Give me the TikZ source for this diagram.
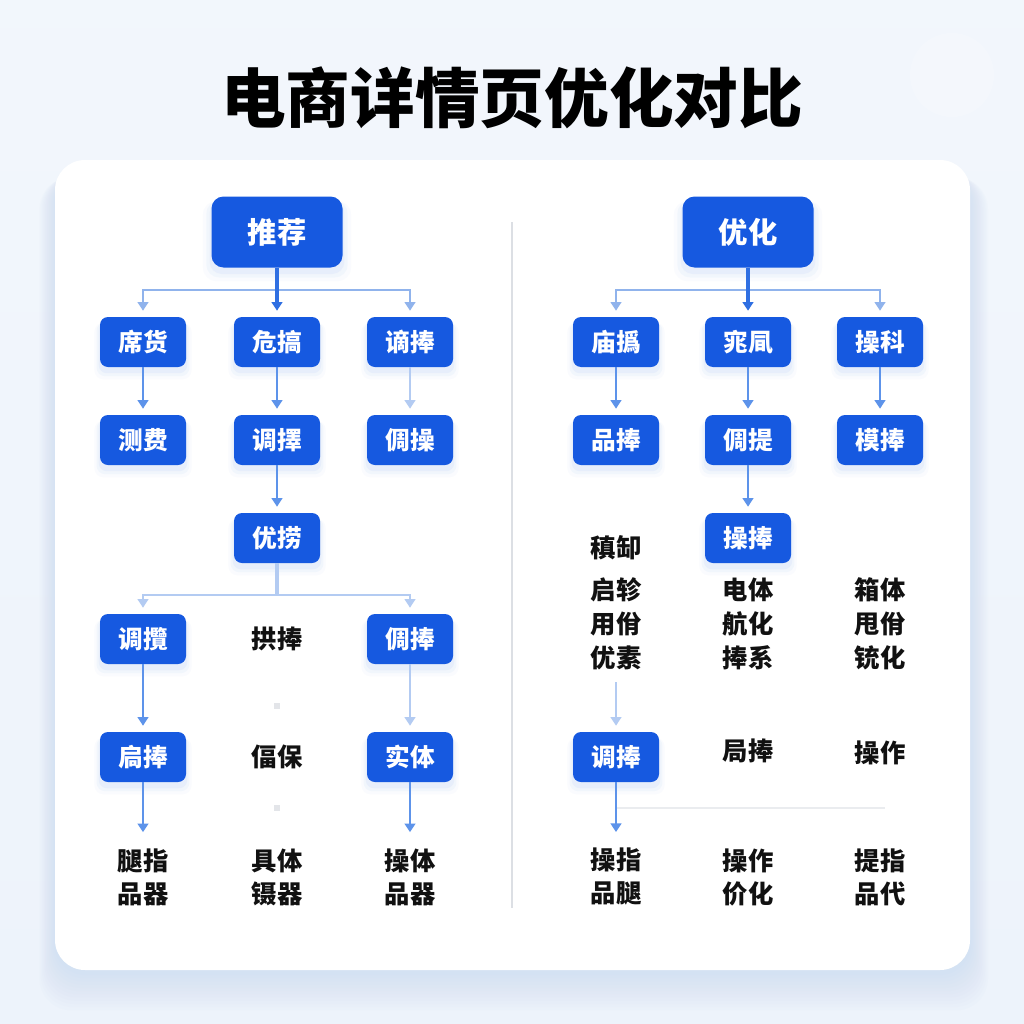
\documentclass[tikz,border=0pt]{standalone}
\usepackage{fontspec}
\newfontfamily\cjk{Noto Sans CJK SC}
\usetikzlibrary{arrows.meta,shadows}
\definecolor{bg}{HTML}{EDF3FB}
\definecolor{boxblue}{HTML}{1659E0}
\definecolor{trunkc}{HTML}{2F6FE2}
\definecolor{branchc}{HTML}{90B3EC}
\definecolor{varc}{HTML}{5D93EA}
\definecolor{lightc}{HTML}{B3CBF2}
\definecolor{divc}{HTML}{DCDFE4}
\definecolor{glow}{HTML}{BCD2F5}
\definecolor{cardglow}{HTML}{B9D0F3}
\definecolor{inkc}{HTML}{111111}
\begin{document}
\begin{tikzpicture}[x=0.75pt,y=-0.75pt,
  bluebox/.style={fill=boxblue, rounded corners=6pt, minimum width=64.5pt, minimum height=37.5pt, inner sep=0pt, text=white,
    font=\cjk\bfseries\fontsize{18.5}{20}\selectfont,
    general shadow={shadow yshift=-4pt, shadow scale=1.03, fill=glow, opacity=0.18},
    general shadow={shadow yshift=-5pt, shadow scale=1.08, fill=glow, opacity=0.12},
    general shadow={shadow yshift=-6pt, shadow scale=1.13, fill=glow, opacity=0.07}},
  rootbox/.style={bluebox, rounded corners=9pt, minimum width=98.25pt, minimum height=53.25pt,
    font=\cjk\bfseries\fontsize{22}{24}\selectfont},
  plain/.style={inner sep=0pt, text=inkc, align=center, font=\cjk\bfseries\fontsize{19}{24.75}\selectfont},
  plainr/.style={plain, font=\cjk\bfseries\fontsize{19}{25.5}\selectfont},
  tip/.style={-{Triangle[width=8pt,length=6.5pt]}},
  trunk/.style={tip, draw=trunkc, line width=2.3pt, shorten >=4.5pt},
  branch/.style={tip, draw=branchc, line width=1.5pt, shorten >=4.5pt},
  varrow/.style={tip, draw=varc, line width=2pt, shorten >=4.5pt},
  lightarrow/.style={tip, draw=lightc, line width=2pt, shorten >=4.5pt},
  busline/.style={draw=branchc, line width=1.5pt},
  dotsq/.style={fill=divc!80, minimum size=4pt, inner sep=0pt}
]
\useasboundingbox (0,0) rectangle (1024,1024);
% background
\shade[top color=bg!70!white, bottom color=bg] (0,0) rectangle (1024,1024);
\fill[white, opacity=0.18] (952,75) circle (42);
% title
\node (title) at (512,98) {\cjk\bfseries\fontsize{48.5}{50}\selectfont 电商详情页优化对比};
% card shadow
\foreach \i in {1,...,12}
  \fill[cardglow, opacity=0.04, rounded corners=24pt] (55-\i*1.3,170+\i*0.6) rectangle (970+\i*1.5,972+\i*3.2);
\fill[white, rounded corners=22.5pt] (55,160) rectangle (970,970);
% divider
\draw[divc, line width=0.8pt] (512,222) -- (512,908);

% ---------------- LEFT ----------------
\node[rootbox] (L0) at (277,232) {推荐};
\node[bluebox] (LA1) at (143,342) {席货};
\node[bluebox] (LB1) at (277,342) {危搞};
\node[bluebox] (LC1) at (410,342) {谪捧};
\node[bluebox] (LA2) at (143,440) {测费};
\node[bluebox] (LB2) at (277,440) {调擇};
\node[bluebox] (LC2) at (410,440) {倜操};
\node[bluebox] (LB3) at (277,538) {优捞};
\node[bluebox] (LA4) at (143,639) {调攬};
\node[plain]   (LB4) at (277,639) {拱捧};
\node[bluebox] (LC4) at (410,639) {倜捧};
\node[bluebox] (LA5) at (143,757) {扃捧};
\node[plain]   (LB5) at (277,757) {偪保};
\node[bluebox] (LC5) at (410,757) {实体};
\node[plain]   (LA6) at (143,877) {腿指\\品器};
\node[plain]   (LB6) at (277,877) {具体\\镊器};
\node[plain]   (LC6) at (410,877) {操体\\品器};
\node[dotsq] (LD1) at (277,706) {};
\node[dotsq] (LD2) at (277,808) {};

\coordinate (Lbus) at (277,290);
\draw[busline] (LA1.north |- Lbus) -- (LC1.north |- Lbus);
\draw[branch] (Lbus) -| (LA1.north);
\draw[branch] (Lbus) -| (LC1.north);
\draw[trunk] (L0.south) -- (LB1.north);
\draw[varrow] (LA1.south) -- (LA2.north);
\draw[varrow] (LB1.south) -- (LB2.north);
\draw[lightarrow] (LC1.south) -- (LC2.north);
\draw[varrow] (LB2.south) -- (LB3.north);
\coordinate (Lbus2) at (277,595);
\draw[draw=lightc, line width=2.5pt] (LB3.south) -- (Lbus2);
\draw[draw=lightc, line width=1.5pt] (LA4.north |- Lbus2) -- (LC4.north |- Lbus2);
\draw[tip, draw=lightc, line width=1.5pt, shorten >=4.5pt] (Lbus2) -| (LA4.north);
\draw[tip, draw=lightc, line width=1.5pt, shorten >=4.5pt] (Lbus2) -| (LC4.north);
\draw[varrow] (LA4.south) -- (LA5.north);
\draw[lightarrow] (LC4.south) -- (LC5.north);
\draw[varrow, shorten >=12pt] (LA5.south) -- (LA6.north);
\draw[varrow, shorten >=12pt] (LC5.south) -- (LC6.north);

% ---------------- RIGHT ----------------
\node[rootbox] (R0) at (748,232) {优化};
\node[bluebox] (RA1) at (616,342) {庙撝};
\node[bluebox] (RB1) at (748,342) {宨凬};
\node[bluebox] (RC1) at (880,342) {操科};
\node[bluebox] (RA2) at (616,440) {品捧};
\node[bluebox] (RB2) at (748,440) {倜提};
\node[bluebox] (RC2) at (880,440) {模捧};
\node[bluebox] (RB3) at (748,538) {操捧};
\node[plain]   (RA3) at (616,548) {稹缷};
\node[plainr]  (RA4) at (616,624) {启轸\\用佾\\优素};
\node[plainr]  (RB4) at (748,624) {电体\\航化\\捧系};
\node[plainr]  (RC4) at (880,624) {箱体\\甩佾\\铳化};
\node[bluebox] (RA5) at (616,757) {调捧};
\node[plain]   (RB5) at (748,751) {局捧};
\node[plain]   (RC5) at (880,753) {操作};
\node[plain]   (RA6) at (616,877) {操指\\品腿};
\node[plain]   (RB6) at (748,877) {操作\\价化};
\node[plain]   (RC6) at (880,877) {提指\\品代};

\coordinate (Rbus) at (748,290);
\draw[busline] (RA1.north |- Rbus) -- (RC1.north |- Rbus);
\draw[branch] (Rbus) -| (RA1.north);
\draw[branch] (Rbus) -| (RC1.north);
\draw[trunk] (R0.south) -- (RB1.north);
\draw[varrow] (RA1.south) -- (RA2.north);
\draw[varrow] (RB1.south) -- (RB2.north);
\draw[varrow] (RC1.south) -- (RC2.north);
\draw[varrow] (RB2.south) -- (RB3.north);
\draw[lightarrow, shorten <=9pt] (RA4.south) -- (RA5.north);
\coordinate (Rline) at (885,808);
\draw[draw=divc!60, line width=0.8pt] (RA5.south |- Rline) -- (Rline);
\draw[varrow, shorten >=12pt] (RA5.south) -- (RA6.north);
\end{tikzpicture}
\end{document}
